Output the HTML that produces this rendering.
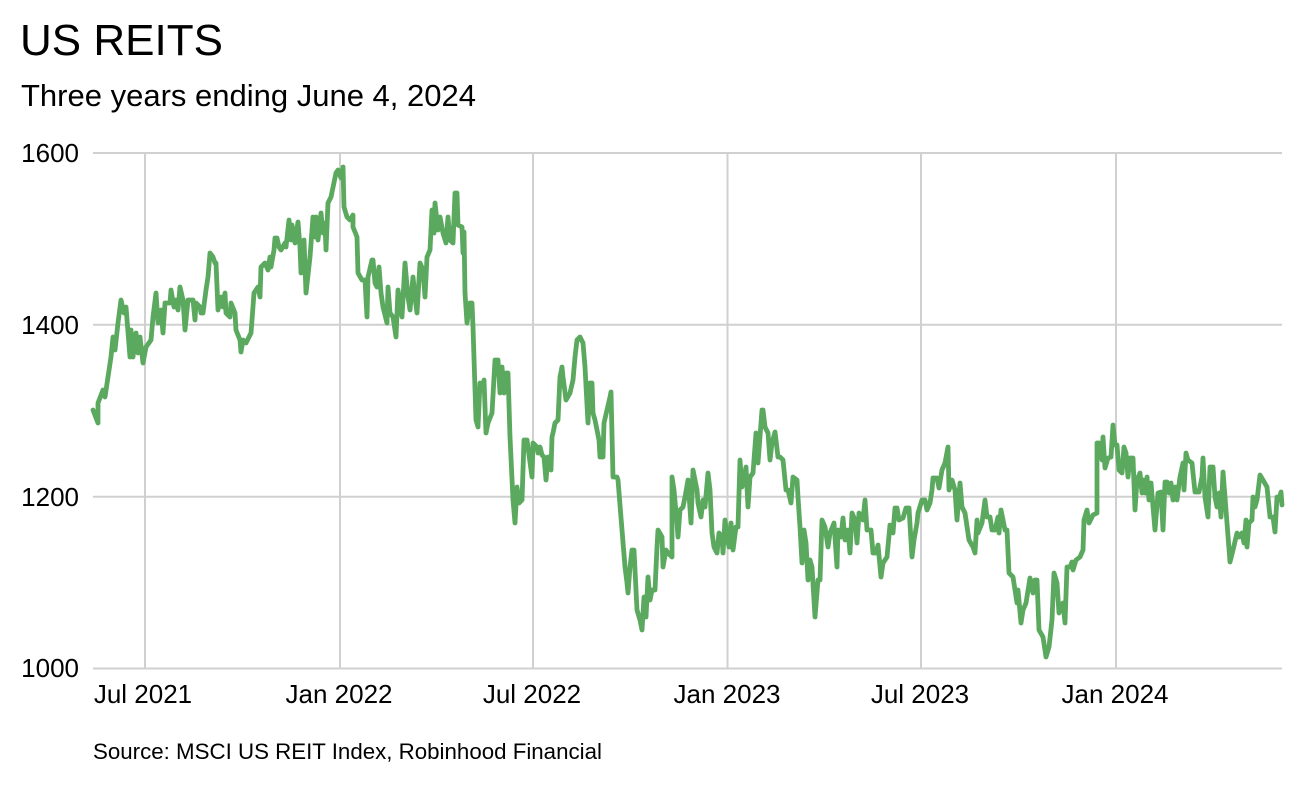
<!DOCTYPE html>
<html>
<head>
<meta charset="utf-8">
<style>
html,body{margin:0;padding:0;background:#fff;}
body{width:1300px;height:800px;overflow:hidden;}
svg{display:block;}
text{font-family:"Liberation Sans",Arial,Helvetica,sans-serif;fill:#000;}
</style>
</head>
<body>
<svg width="1300" height="800" viewBox="0 0 1300 800" xmlns="http://www.w3.org/2000/svg">
<rect width="1300" height="800" fill="#fff"/>
<text x="20" y="55" font-size="44">US REITS</text>
<text x="21" y="106" font-size="31">Three years ending June 4, 2024</text>

<g stroke="#d0d0d0" stroke-width="2" fill="none">
<line x1="93" y1="153" x2="1282" y2="153"/>
<line x1="93" y1="324.8" x2="1282" y2="324.8"/>
<line x1="93" y1="496.7" x2="1282" y2="496.7"/>
<line x1="93" y1="668.5" x2="1282" y2="668.5"/>
<line x1="145" y1="153" x2="145" y2="668.5"/>
<line x1="340" y1="153" x2="340" y2="668.5"/>
<line x1="533" y1="153" x2="533" y2="668.5"/>
<line x1="727.5" y1="153" x2="727.5" y2="668.5"/>
<line x1="921" y1="153" x2="921" y2="668.5"/>
<line x1="1116" y1="153" x2="1116" y2="668.5"/>
</g>

<g font-size="26" text-anchor="end">
<text x="79" y="162">1600</text>
<text x="79" y="334">1400</text>
<text x="79" y="506">1200</text>
<text x="79" y="677">1000</text>
</g>
<g font-size="26" text-anchor="middle">
<text x="143" y="703">Jul 2021</text>
<text x="339" y="703">Jan 2022</text>
<text x="532" y="703">Jul 2022</text>
<text x="727" y="703">Jan 2023</text>
<text x="920" y="703">Jul 2023</text>
<text x="1115" y="703">Jan 2024</text>
</g>
<text x="93" y="759" font-size="22.3">Source: MSCI US REIT Index, Robinhood Financial</text>

<polyline fill="none" stroke="#5aa95e" stroke-width="4.8" stroke-linejoin="round" stroke-linecap="round" points="
93,410 98,423 98,403 103,390 105,397 111,357 113,337 115,350 118,323 121,300 124,313 126,307 130,357 131,330 133,357 136,333 138,353 140,337 143,363 146,347 151,340 153,317 156,293 158,323 161,310 163,333 165,303 170,303 171,290 174,307 176,300 178,310 180,287 183,300 185,330 188,300 193,300 195,320 196,303 200,307 201,313 203,313 206,290 208,277 210,253 213,257 215,263 216,263 218,310 221,297 223,307 225,293 226,313 230,317 231,303 235,313 236,330 240,340 241,352 243,340 246,343 251,333 252,320 254,293 258,287 260,297 261,267 265,263 268,270 270,257 271,267 274,250 275,238 277,238 279,247 281,250 285,243 286,247 289,220 291,240 292,225 295,243 298,222 300,247 301,273 304,240 306,293 310,257 313,217 315,237 316,217 318,240 321,213 323,233 325,223 326,250 328,203 331,197 336,173 338,170 341,178 343,167
344,207 347,217 350,220 353,215 353,227 357,237 358,273 362,280 365,280 367,317 368,277 372,260 373,260 375,283 377,287 379,267 381,293 383,307 387,323 388,287 390,313 393,317 396,337 398,290 402,317 405,263 408,297 410,310 413,277 415,297 417,313 420,263 423,270 425,297 427,257 430,250 432,210 434,233 435,203 438,230 440,217 443,233 446,243 448,217 450,240 453,243 455,193 457,193 458,225 462,227 463,253 464,232 465,293 467,323 470,303 472,303 473,327 476,420 478,427 480,383 483,387 484,380 486,433 488,423 492,413 495,360 498,360 500,393 502,367 504,393 506,373 508,373 510,437 513,500 515,523 517,487 519,503 522,500 524,440 527,440 532,477 533,443 537,447 538,453 540,447 542,455 544,457 546,480 548,457 551,470 552,437 553,433 555,423 558,420 560,377 562,367 563,377 566,400 570,393 573,380 575,357 577,340 580,337 583,343 585,367 588,423 590,383 592,383 593,413 595,420
599,440 600,457 603,457 604,423 607,410 610,397 611,392 613,477 617,477 618,480 622,530 625,567 627,583 628,593 630,567 632,550 634,550 637,610 640,620 642,630 644,597 646,617 648,577 650,600 652,590 655,590 657,547 658,530 662,537 663,567 666,550 668,553 672,557 672,477 674,490 677,523 678,537 680,510 683,507 685,497 688,480 691,523 693,470 697,490 698,503 701,517 703,500 705,507 708,473 710,490 712,533 714,547 717,553 719,533 722,537 723,553 725,520 727,537 729,547 731,523 733,550 736,527 738,527 740,460 742,487 744,480 746,467 748,507 750,477 753,473 756,433 758,463 762,410 763,410 765,427 768,433 770,460 772,443 775,432 778,457 780,457 783,460 786,490 788,490 791,503 793,477 797,480 798,497 800,527 802,563 804,530 806,543 808,580 810,560 812,567 815,617 818,580 820,580 822,520 825,527 828,547 830,533 834,523 837,567 838,530 841,537 843,518 845,540 848,530 850,553 852,513
855,520 857,543 859,513 863,520 865,500 867,530 871,530 873,553 876,553 878,545 881,577 883,563 887,557 890,525 893,533 895,508 897,508 899,520 903,518 906,508 909,508 912,557 914,540 917,523 918,513 922,500 925,500 927,510 930,503 932,490 933,478 937,478 939,488 942,470 945,463 948,447 949,490 952,480 955,490 957,520 960,483 962,507 965,513 969,540 973,547 975,553 977,520 978,533 982,523 985,500 987,517 990,517 992,530 995,530 998,517 999,533 1001,510 1005,530 1007,530 1009,573 1013,577 1017,603 1018,590 1021,623 1023,610 1026,603 1030,578 1033,593 1035,580 1037,580 1039,630 1043,637 1046,657 1049,647 1052,620 1054,573 1057,583 1059,613 1063,603 1065,623 1067,567 1070,567 1072,562 1073,570 1076,560 1080,557 1083,550 1084,520 1087,510 1089,523
1093,515 1097,513 1097,443 1099,443 1102,460 1103,437 1105,468 1108,458 1111,457 1113,425 1115,445 1117,445 1119,470 1122,473 1124,447 1126,453 1128,477 1130,458 1133,458 1135,510 1137,480 1140,473 1142,493 1143,480 1145,493 1147,477 1149,500 1151,483 1155,530 1158,493 1161,492 1163,530 1165,482 1167,482 1169,493 1171,483 1173,500 1175,487 1177,500 1180,477 1183,463 1184,490 1186,453 1188,460 1192,463 1193,473 1195,492 1199,492 1202,477 1203,458 1205,497 1208,517 1210,467 1213,467 1215,497 1217,507 1219,493 1221,517 1223,472 1225,497 1227,523 1230,562 1233,550 1237,533 1239,537 1242,533 1244,543 1246,520 1247,547 1249,523 1252,520 1253,497 1255,507 1257,500 1260,475 1263,480 1267,487 1270,517 1273,517 1275,532 1277,497 1279,500 1281,492 1282,505"/>
</svg>
</body>
</html>
